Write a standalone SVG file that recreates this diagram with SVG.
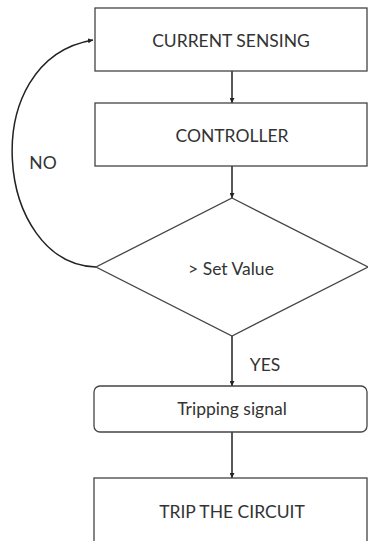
<svg xmlns="http://www.w3.org/2000/svg" width="368" height="541" viewBox="0 0 368 541">
<style>
.box{fill:#fff;stroke:#444;stroke-width:1.3}
.t{font-family:Lato,"Open Sans","Liberation Sans",sans-serif;font-size:17.5px;fill:#333;text-anchor:middle}
.c{fill:none;stroke:#222;stroke-width:1.5}
</style>
<defs>
<marker id="ah" viewBox="0 0 8 8" refX="8" refY="4" markerWidth="5" markerHeight="5" orient="auto" markerUnits="userSpaceOnUse">
<path d="M0,0 L8,4 L0,8 z" fill="#222"/>
</marker>
</defs>
<rect width="368" height="541" fill="#fff"/>
<g id="connectors">
<line class="c" x1="232" y1="71" x2="232" y2="103" marker-end="url(#ah)"/>
<line class="c" x1="232" y1="166" x2="232" y2="198" marker-end="url(#ah)"/>
<line class="c" x1="232" y1="336" x2="232" y2="386" marker-end="url(#ah)"/>
<line class="c" x1="232" y1="432" x2="232" y2="478" marker-end="url(#ah)"/>
<path class="c" d="M96,267 C-5,264 -25,60 93,40" marker-end="url(#ah)"/>
<text class="t" x="265" y="371">YES</text>
<text class="t" x="43" y="169">NO</text>
</g>
<g id="current-sensing">
<rect class="box" x="95" y="8" width="272" height="63"/>
<text class="t" x="231" y="47">CURRENT SENSING</text>
</g>
<g id="controller">
<rect class="box" x="95" y="103" width="272" height="63"/>
<text class="t" x="232" y="142">CONTROLLER</text>
</g>
<g id="decision">
<polygon class="box" points="232,198 368,267 232,336 96,267"/>
<text class="t" x="231" y="275">&gt; Set Value</text>
</g>
<g id="tripping-signal">
<rect class="box" x="94" y="386" width="273" height="46" rx="6"/>
<text class="t" x="232" y="415">Tripping signal</text>
</g>
<g id="trip-circuit">
<rect class="box" x="94" y="478" width="273" height="70"/>
<text class="t" x="232" y="518">TRIP THE CIRCUIT</text>
</g>
</svg>
